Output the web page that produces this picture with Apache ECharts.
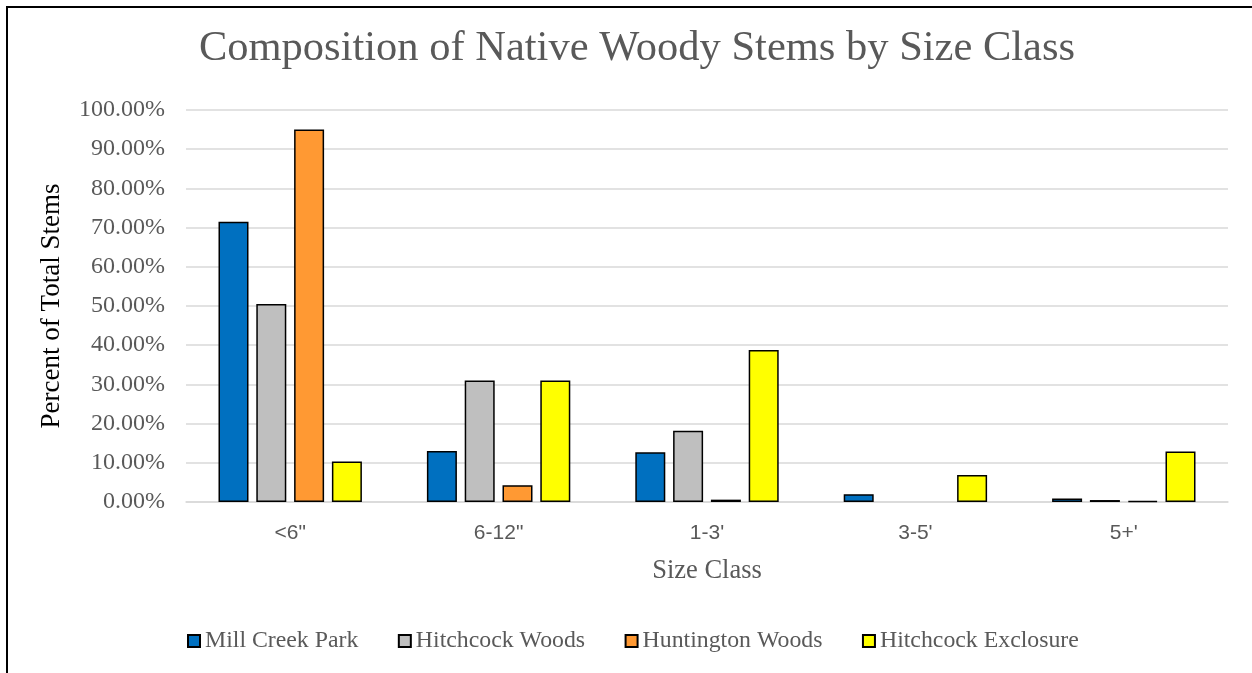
<!DOCTYPE html>
<html>
<head>
<meta charset="utf-8">
<script src="https://cdn.jsdelivr.net/npm/echarts@6/dist/echarts.min.js"></script>
<style>
  html, body { margin: 0; padding: 0; background: #ffffff; }
  #chart { width: 1252px; height: 673px; }
</style>
</head>
<body>
<div id="chart"></div>
<script>
// Size classes along the x axis
const sizeClasses = ['<6"', '6-12"', "1-3'", "3-5'", "5+'"];

// Percent of total native woody stems in each size class, per site
const millCreekPark = [71.5, 13.0, 12.7, 2.0, 0.9];
const hitchcockWoods = [50.5, 31.0, 18.2, 0, 0.5];
const huntingtonWoods = [95.0, 4.3, 0.6, 0, 0.3];
const hitchcockExclosure = [10.3, 31.0, 38.8, 6.9, 12.9];

const siteNames = ['Mill Creek Park', 'Hitchcock Woods', 'Huntington Woods', 'Hitchcock Exclosure'];
const siteValues = [millCreekPark, hitchcockWoods, huntingtonWoods, hitchcockExclosure];
const siteColors = ['#0070C0', '#BFBFBF', '#FF9933', '#FFFF00'];

const serif = 'Liberation Serif, Times New Roman, serif';
const sans = 'Liberation Sans, Arial, sans-serif';
const grey = '#595959';

const chart = echarts.init(document.getElementById('chart'), null, { renderer: 'canvas' });

const series = siteNames.map((name, i) => ({
  name: name,
  type: 'bar',
  barWidth: 30,
  barGap: '26%',
  // a zero share draws no bar at all
  data: siteValues[i].map(v => (v === 0 ? '-' : v)),
  itemStyle: {
    color: siteColors[i],
    borderColor: '#000000',
    borderWidth: 1.5
  }
}));

chart.setOption({
  animation: false,
  backgroundColor: '#ffffff',
  title: {
    text: 'Composition of Native Woody Stems by Size Class',
    left: 637,
    textAlign: 'center',
    top: 27,
    padding: 0,
    textStyle: { fontFamily: serif, fontSize: 42.5, fontWeight: 'normal', color: grey }
  },
  legend: {
    data: siteNames,
    left: 187,
    top: 629,
    padding: 0,
    icon: 'rect',
    itemWidth: 12,
    itemHeight: 12,
    itemGap: 39.5,
    textStyle: { fontFamily: serif, fontSize: 23.8, color: grey }
  },
  grid: { left: 186, right: 24, top: 110, bottom: 171, containLabel: false },
  xAxis: {
    type: 'category',
    data: sizeClasses,
    name: 'Size Class',
    nameLocation: 'middle',
    nameGap: 56,
    nameTextStyle: { fontFamily: serif, fontSize: 26.5, color: grey },
    axisLine: { show: true, lineStyle: { color: '#D9D9D9', width: 1.5 } },
    axisTick: { show: false },
    axisLabel: { fontFamily: sans, fontSize: 21, color: grey, margin: 21 }
  },
  yAxis: {
    type: 'value',
    min: 0,
    max: 100,
    interval: 10,
    name: 'Percent of Total Stems',
    nameLocation: 'middle',
    nameGap: 121,
    nameTextStyle: { fontFamily: serif, fontSize: 27, color: '#000000' },
    axisLine: { show: false },
    axisTick: { show: false },
    axisLabel: {
      fontFamily: serif, fontSize: 24, color: grey, margin: 21,
      formatter: v => v.toFixed(2) + '%'
    },
    splitLine: { lineStyle: { color: '#D9D9D9', width: 1.5 } }
  },
  series: series,
  graphic: [
    // frame lines around the figure
    { type: 'rect', shape: { x: 6, y: 6, width: 1260, height: 2 }, style: { fill: '#000000' }, silent: true },
    { type: 'rect', shape: { x: 6, y: 6, width: 2, height: 700 }, style: { fill: '#000000' }, silent: true }
  ]
});
</script>
</body>
</html>
